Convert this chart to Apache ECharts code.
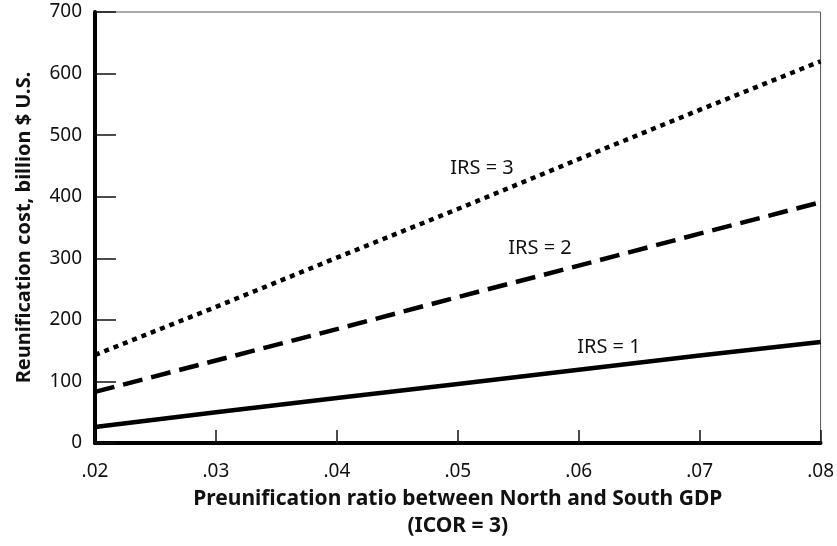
<!DOCTYPE html>
<html>
<head>
<meta charset="utf-8">
<script src="https://cdn.jsdelivr.net/npm/echarts@6/dist/echarts.min.js"></script>
<style>
  html, body { margin: 0; padding: 0; background: #fff; }
  #chart { width: 837px; height: 546px; }
</style>
</head>
<body>
<div id="chart"></div>
<script>
// preunification ratio (x) and reunification cost in billion $ (y)
var ratios = [0.02, 0.03, 0.04, 0.05, 0.06, 0.07, 0.08];
var irs1 = [26, 50, 73, 96, 119, 142, 164];
var irs2 = [83, 134, 185, 237, 288, 340, 391];
var irs3 = [143, 221, 301, 380, 461, 541, 620];
var seriesNames = ['IRS = 1', 'IRS = 2', 'IRS = 3'];

// where the in-chart labels sit, in data units
var labelSpots = [[0.0625, 156], [0.0568, 317], [0.0520, 446]];

var font = 'Noto Sans';

function pairs(ys) {
  return ys.map(function (y, i) { return [ratios[i], y]; });
}

function makeSeries(idx, ys, dash) {
  return {
    name: seriesNames[idx],
    type: 'line',
    data: pairs(ys),
    symbol: 'none',
    silent: true,
    lineStyle: { color: '#000', width: 4.5, type: dash, cap: 'butt' },
    markPoint: {
      symbol: 'circle',
      symbolSize: 0,
      data: [{ coord: labelSpots[idx], value: seriesNames[idx] }],
      label: {
        show: true,
        position: 'inside',
        formatter: seriesNames[idx],
        color: '#111',
        fontFamily: font,
        fontSize: 20
      }
    }
  };
}

var chart = echarts.init(document.getElementById('chart'));
chart.setOption({
  animation: false,
  backgroundColor: '#fff',
  grid: {
    left: 95, right: 16, top: 12, bottom: 103,
    show: true, borderColor: '#555', borderWidth: 1
  },
  xAxis: {
    type: 'value',
    min: 0.02, max: 0.08, interval: 0.01,
    name: 'Preunification ratio between North and South GDP\n(ICOR = 3)',
    nameLocation: 'middle',
    nameGap: 37,
    nameTextStyle: { fontFamily: font, fontWeight: 'bold', fontSize: 21, color: '#111', lineHeight: 27, verticalAlign: 'top' },
    axisLine: { onZero: false, lineStyle: { color: '#000', width: 4 } },
    axisTick: { inside: true, length: 13, lineStyle: { color: '#111', width: 1.5 } },
    splitLine: { show: false },
    axisLabel: {
      margin: 19,
      fontFamily: font, fontSize: 19, color: '#111',
      formatter: function (v) { return v.toFixed(2).replace(/^0/, ''); }
    }
  },
  yAxis: {
    type: 'value',
    min: 0, max: 700, interval: 100,
    name: 'Reunification cost, billion $ U.S.',
    nameLocation: 'middle',
    nameRotate: 90,
    nameGap: 61,
    nameTextStyle: { fontFamily: font, fontWeight: 'bold', fontSize: 20, color: '#111' },
    axisLine: { show: true, lineStyle: { color: '#000', width: 4 } },
    axisTick: { show: true, inside: true, length: 21, lineStyle: { color: '#111', width: 1.5 } },
    splitLine: { show: false },
    axisLabel: { margin: 13, fontFamily: font, fontSize: 19, color: '#111' }
  },
  series: [
    makeSeries(0, irs1, 'solid'),
    makeSeries(1, irs2, [20, 9]),
    makeSeries(2, irs3, [5, 5])
  ]
});
</script>
</body>
</html>
